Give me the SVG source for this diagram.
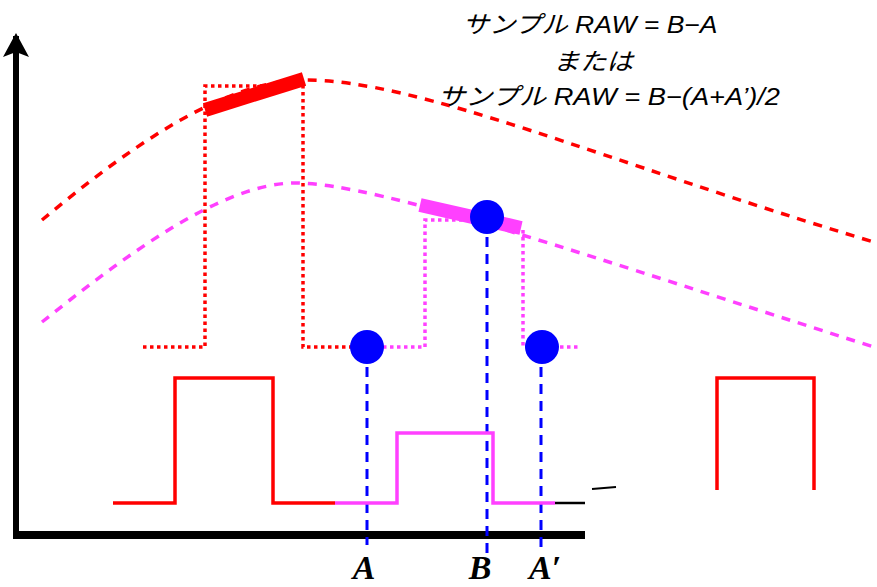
<svg xmlns="http://www.w3.org/2000/svg" width="877" height="587" viewBox="0 0 877 587">
<defs>
<style>
.curve{fill:none;stroke-width:3.5;stroke-dasharray:9 8}
.dot{fill:none;stroke-width:3.5;stroke-dasharray:3.5 3.5}
.solid{fill:none;stroke-width:3.5}
.vdash{fill:none;stroke:#0000FF;stroke-width:3;stroke-dasharray:10 7}
.red{stroke:#FF0000}
.mag{stroke:#FF40FF}
.title{font-family:"Liberation Sans","Noto Sans CJK JP",sans-serif;font-style:italic;font-size:24px;fill:#000;text-anchor:middle}
.lbl{font-family:"Liberation Serif",serif;font-style:italic;font-weight:bold;font-size:34px;fill:#000;text-anchor:middle}
.pt{fill:#0000FF}
</style>
</defs>
<rect width="877" height="587" fill="#fff"/>

<g id="axes">
<line x1="16" y1="535" x2="16" y2="36" stroke="#000" stroke-width="6"/>
<path d="M16,33 L29,57 L16,52 L3,57 Z" fill="#000"/>
<line x1="13" y1="535" x2="585" y2="535" stroke="#000" stroke-width="8"/>
</g>

<g id="curves">
<path class="curve red" d="M42,220 C120,155 220,80 305,80 C420,80 600,160 877,243"/>
<path class="curve mag" d="M42,322 C120,260 220,183 295,183 C380,183 600,260 877,348"/>
</g>

<g id="dotted-pulses">
<path class="dot red" d="M143,347 H205 V86 H303 V347 H352"/>
<path class="dot mag" d="M383,347 H425 V220 H470"/>
<path class="dot mag" d="M523,230 V347 H580"/>
</g>

<g id="slopes">
<line x1="205" y1="110" x2="304" y2="79" stroke="#FF0000" stroke-width="14"/>
<line x1="420" y1="205" x2="521" y2="228" stroke="#FF40FF" stroke-width="14"/>
</g>

<g id="connectors">
<line class="vdash" x1="367" y1="350" x2="367" y2="545"/>
<line class="vdash" x1="487" y1="220" x2="487" y2="553"/>
<line class="vdash" x1="541" y1="350" x2="541" y2="553"/>
</g>

<g id="samples">
<circle id="ptA" class="pt" cx="367" cy="347" r="17"/>
<circle id="ptB" class="pt" cx="487" cy="217" r="17"/>
<circle id="ptA2" class="pt" cx="542" cy="347" r="17"/>
</g>

<g id="solid-pulses">
<path class="solid red" d="M113,503 H175 V378 H273 V503 H335"/>
<path class="solid mag" d="M335,503 H397 V433 H493 V503 H555"/>
<line x1="555" y1="503" x2="585" y2="503" stroke="#000" stroke-width="2.5"/>
<line x1="592" y1="489" x2="616" y2="487" stroke="#000" stroke-width="2"/>
<path class="solid red" d="M717,490 V378 H814 V490"/>
</g>

<g id="title">
<text class="title" x="590" y="33" textLength="255" lengthAdjust="spacingAndGlyphs">サンプル RAW = B−A</text>
<text class="title" x="593" y="70" textLength="80" lengthAdjust="spacingAndGlyphs">または</text>
<text class="title" x="609" y="105" textLength="342" lengthAdjust="spacingAndGlyphs">サンプル RAW = B−(A+A’)/2</text>
</g>

<g id="labels">
<text class="lbl" x="364" y="579">A</text>
<text class="lbl" x="480" y="579">B</text>
<text class="lbl" x="545" y="579">A′</text>
</g>
</svg>
